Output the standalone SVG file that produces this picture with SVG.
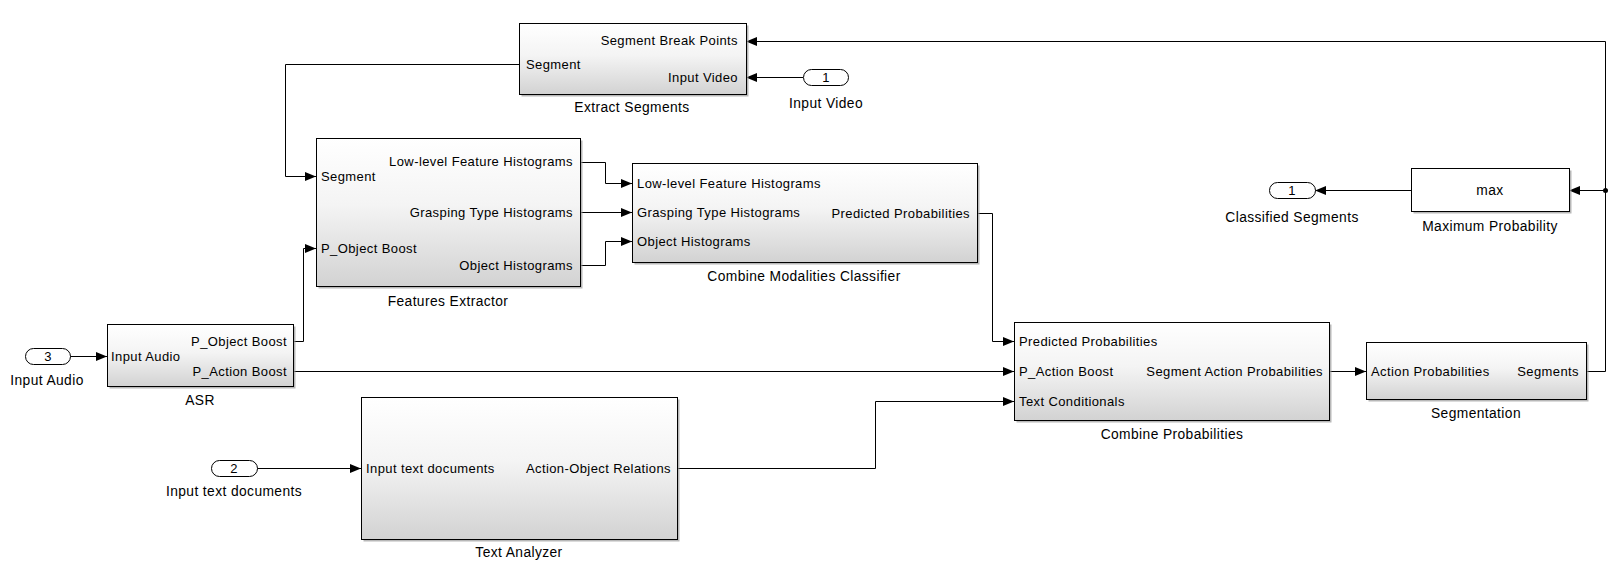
<svg xmlns="http://www.w3.org/2000/svg" width="1616" height="577" viewBox="0 0 1616 577">
<defs>
<linearGradient id="g" x1="0" y1="0" x2="0" y2="1">
<stop offset="0" stop-color="#ffffff"/>
<stop offset="0.45" stop-color="#f4f4f4"/>
<stop offset="1" stop-color="#d2d2d2"/>
</linearGradient>
<marker id="a" markerUnits="userSpaceOnUse" markerWidth="12" markerHeight="10" refX="11" refY="5" orient="auto">
<path d="M0,0.5 L11,5 L0,9.5 z" fill="#000"/>
</marker>
</defs>
<style>
text{font-family:"Liberation Sans",Arial,sans-serif;font-size:13px;letter-spacing:0.4px;fill:#000}
text.n{font-size:13.8px}
.m{text-anchor:middle}
.e{text-anchor:end}
.box{fill:url(#g);stroke:#000;stroke-width:1}
.wbox{fill:#fff;stroke:#000;stroke-width:1}
.sh{fill:#9a9a9a;opacity:0.7}
.port{fill:#fff;stroke:#000;stroke-width:1}
.c{fill:none;stroke:#000;stroke-width:1}
.ar{marker-end:url(#a)}
</style>
<rect width="1616" height="577" fill="#fff"/>

<g id="connectors">
<polyline class="c ar" points="1586,371.5 1605.5,371.5 1605.5,41.5 746,41.5"/>
<polyline class="c ar" points="1605.5,190.5 1569,190.5"/>
<circle cx="1605.5" cy="190.5" r="2.5" fill="#000"/>
<polyline class="c ar" points="1411,190.5 1315,190.5"/>
<polyline class="c ar" points="803,77.5 746,77.5"/>
<polyline class="c ar" points="519,64.5 285.5,64.5 285.5,176.5 316,176.5"/>
<polyline class="c ar" points="580,162.5 605.5,162.5 605.5,183.5 632,183.5"/>
<polyline class="c ar" points="580,212.5 632,212.5"/>
<polyline class="c ar" points="580,265.5 605.5,265.5 605.5,241.5 632,241.5"/>
<polyline class="c ar" points="977,213.5 992.5,213.5 992.5,341.5 1014,341.5"/>
<polyline class="c ar" points="70,356.5 107,356.5"/>
<polyline class="c ar" points="293,341.5 303.5,341.5 303.5,248.5 316,248.5"/>
<polyline class="c ar" points="293,371.5 1014,371.5"/>
<polyline class="c ar" points="257,468.5 361,468.5"/>
<polyline class="c ar" points="677,468.5 875.5,468.5 875.5,401.5 1014,401.5"/>
<polyline class="c ar" points="1329,371.5 1366,371.5"/>
</g>

<g id="extract-segments">
<rect class="sh" x="521.5" y="25.5" width="227" height="71"/>
<rect class="box" x="519.5" y="23.5" width="227" height="71"/>
<text class="e" x="738" y="45">Segment Break Points</text>
<text x="526" y="69">Segment</text>
<text class="e" x="738" y="82">Input Video</text>
<text class="m n" x="632" y="112">Extract Segments</text>
</g>

<g id="input-video">
<rect class="port" x="803.5" y="69.5" width="45" height="16" rx="8"/>
<text class="m" x="826" y="82">1</text>
<text class="m n" x="826" y="108">Input Video</text>
</g>

<g id="features-extractor">
<rect class="sh" x="318.5" y="140.5" width="264" height="148"/>
<rect class="box" x="316.5" y="138.5" width="264" height="148"/>
<text x="321" y="181">Segment</text>
<text x="321" y="253">P_Object Boost</text>
<text class="e" x="573" y="166">Low-level Feature Histograms</text>
<text class="e" x="573" y="217">Grasping Type Histograms</text>
<text class="e" x="573" y="270">Object Histograms</text>
<text class="m n" x="448" y="306">Features Extractor</text>
</g>

<g id="combine-modalities-classifier">
<rect class="sh" x="634.5" y="165.5" width="345" height="99"/>
<rect class="box" x="632.5" y="163.5" width="345" height="99"/>
<text x="637" y="188">Low-level Feature Histograms</text>
<text x="637" y="217">Grasping Type Histograms</text>
<text x="637" y="246">Object Histograms</text>
<text class="e" x="970" y="218">Predicted Probabilities</text>
<text class="m n" x="804" y="281">Combine Modalities Classifier</text>
</g>

<g id="input-audio">
<rect class="port" x="25.5" y="348.5" width="45" height="16" rx="8"/>
<text class="m" x="48" y="361">3</text>
<text class="m n" x="47" y="385">Input Audio</text>
</g>

<g id="asr">
<rect class="sh" x="109.5" y="326.5" width="186" height="62"/>
<rect class="box" x="107.5" y="324.5" width="186" height="62"/>
<text x="111" y="361">Input Audio</text>
<text class="e" x="287" y="346">P_Object Boost</text>
<text class="e" x="287" y="376">P_Action Boost</text>
<text class="m n" x="200" y="405">ASR</text>
</g>

<g id="input-text-documents">
<rect class="port" x="211.5" y="460.5" width="46" height="16" rx="8"/>
<text class="m" x="234" y="473">2</text>
<text class="m n" x="234" y="496">Input text documents</text>
</g>

<g id="text-analyzer">
<rect class="sh" x="363.5" y="399.5" width="316" height="142"/>
<rect class="box" x="361.5" y="397.5" width="316" height="142"/>
<text x="366" y="473">Input text documents</text>
<text class="e" x="671" y="473">Action-Object Relations</text>
<text class="m n" x="519" y="557">Text Analyzer</text>
</g>

<g id="combine-probabilities">
<rect class="sh" x="1016.5" y="324.5" width="315" height="98"/>
<rect class="box" x="1014.5" y="322.5" width="315" height="98"/>
<text x="1019" y="346">Predicted Probabilities</text>
<text x="1019" y="376">P_Action Boost</text>
<text x="1019" y="406">Text Conditionals</text>
<text class="e" x="1323" y="376">Segment Action Probabilities</text>
<text class="m n" x="1172" y="439">Combine Probabilities</text>
</g>

<g id="segmentation">
<rect class="sh" x="1368.5" y="344.5" width="220" height="57"/>
<rect class="box" x="1366.5" y="342.5" width="220" height="57"/>
<text x="1371" y="376">Action Probabilities</text>
<text class="e" x="1579" y="376">Segments</text>
<text class="m n" x="1476" y="418">Segmentation</text>
</g>

<g id="maximum-probability">
<rect class="sh" x="1413.5" y="170.5" width="158" height="43"/>
<rect class="wbox" x="1411.5" y="168.5" width="158" height="43"/>
<text class="m n" x="1490" y="195">max</text>
<text class="m n" x="1490" y="231">Maximum Probability</text>
</g>

<g id="classified-segments">
<rect class="port" x="1269.5" y="182.5" width="46" height="16" rx="8"/>
<text class="m" x="1292" y="195">1</text>
<text class="m n" x="1292" y="222">Classified Segments</text>
</g>
</svg>
